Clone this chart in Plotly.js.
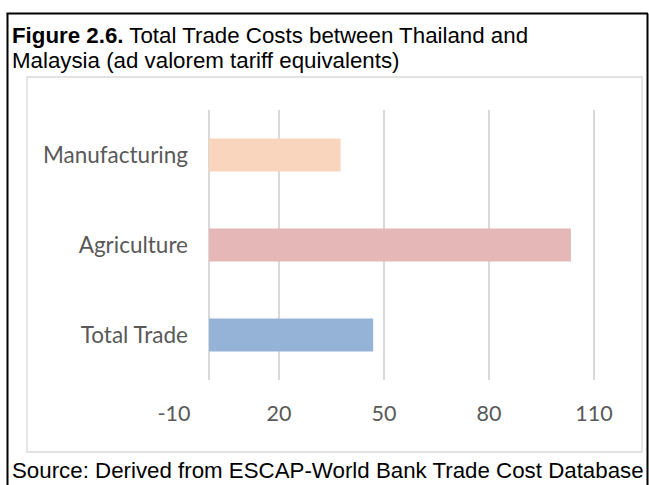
<!DOCTYPE html>
<html>
<head>
<meta charset="utf-8">
<script src="https://cdn.plot.ly/plotly-3.0.1.min.js"></script>
<style>
  html, body { margin: 0; padding: 0; background: #ffffff; }
  #chart { width: 649px; height: 485px; }
</style>
</head>
<body>
<div id="chart"></div>
<script>
// ---- data ----
var categories = ['Total Trade', 'Agriculture', 'Manufacturing'];
var values = [46.9, 103.4, 37.6];
var barColors = ['#95B3D7', '#E5B8B7', '#F8D5BC'];
var tickValues = [-10, 20, 50, 80, 110];
var tickLabels = ['-10', '20', '50', '80', '110'];
var titleLine1 = '<b>Figure 2.6.</b> Total Trade Costs between Thailand and';
var titleLine2 = 'Malaysia (ad valorem tariff equivalents)';
var sourceText = 'Source: Derived from ESCAP-World Bank Trade Cost Database';

// ---- layout geometry ----
var W = 649, H = 485;
var mL = 174, mR = 20, mT = 110, mB = 105;
var pw = W - mL - mR, ph = H - mT - mB;
function px(x) { return (x - mL) / pw; }
function py(y) { return (H - mB - y) / ph; }

var textFont = 'Liberation Sans, Arial, sans-serif';
var axisFont = 'Lato, sans-serif';

var trace = {
  type: 'bar',
  orientation: 'h',
  y: categories,
  x: values,
  marker: { color: barColors, line: { width: 0 } },
  width: 0.367,
  hoverinfo: 'none'
};

var layout = {
  width: W, height: H,
  margin: { l: mL, r: mR, t: mT, b: mB, pad: 0 },
  paper_bgcolor: '#ffffff',
  plot_bgcolor: '#ffffff',
  showlegend: false,
  xaxis: {
    range: [-10, 120],
    tickmode: 'array',
    tickvals: tickValues,
    ticktext: tickLabels,
    showgrid: true,
    gridcolor: '#d9d9d9',
    gridwidth: 1.5,
    zeroline: true,
    zerolinecolor: '#d9d9d9',
    zerolinewidth: 1.5,
    showline: false,
    ticks: '',
    ticklabelstandoff: 18,
    tickfont: { family: axisFont, size: 21.5, color: '#595959' },
    fixedrange: true
  },
  yaxis: {
    type: 'category',
    categoryorder: 'array',
    categoryarray: categories,
    anchor: 'free',
    position: px(188),
    showgrid: false,
    zeroline: false,
    showline: false,
    ticks: '',
    tickfont: { family: axisFont, size: 22.5, color: '#595959' },
    fixedrange: true
  },
  annotations: [
    { text: titleLine1, xref: 'paper', yref: 'paper', x: px(10), y: py(35.5),
      xanchor: 'left', yanchor: 'middle', showarrow: false,
      font: { family: textFont, size: 22.3, color: '#000000' } },
    { text: titleLine2, xref: 'paper', yref: 'paper', x: px(10), y: py(60.5),
      xanchor: 'left', yanchor: 'middle', showarrow: false,
      font: { family: textFont, size: 22.3, color: '#000000' } },
    { text: sourceText, xref: 'paper', yref: 'paper', x: px(10), y: py(470),
      xanchor: 'left', yanchor: 'middle', showarrow: false,
      font: { family: textFont, size: 22.3, color: '#000000' } }
  ],
  shapes: [
    // chart frame
    { type: 'rect', xref: 'paper', yref: 'paper', x0: px(27), x1: px(642), y0: py(452), y1: py(77),
      line: { color: '#d9d9d9', width: 1.3 }, layer: 'below' },
    // outer black border (left, top, right)
    { type: 'line', xref: 'paper', yref: 'paper', x0: px(7.5), x1: px(7.5), y0: py(13.5), y1: py(490),
      line: { color: '#000000', width: 2 } },
    { type: 'line', xref: 'paper', yref: 'paper', x0: px(6.5), x1: px(648), y0: py(13.5), y1: py(13.5),
      line: { color: '#000000', width: 2 } },
    { type: 'line', xref: 'paper', yref: 'paper', x0: px(647.5), x1: px(647.5), y0: py(13.5), y1: py(490),
      line: { color: '#000000', width: 2 } }
  ]
};

Plotly.newPlot('chart', [trace], layout, { displayModeBar: false, staticPlot: true });
</script>
</body>
</html>
